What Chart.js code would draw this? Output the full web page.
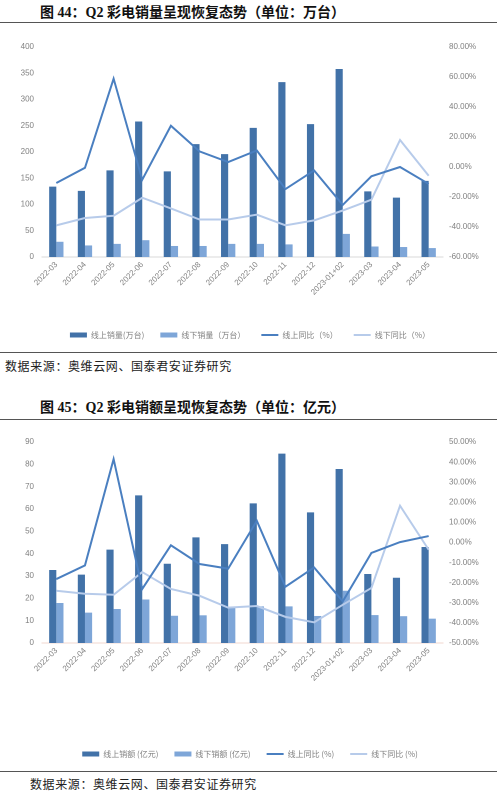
<!DOCTYPE html>
<html><head><meta charset="utf-8">
<script src="https://cdn.jsdelivr.net/npm/chart.js@4.4.0/dist/chart.umd.min.js"></script>
<style>
html,body{margin:0;padding:0;background:#fff;width:500px;height:794px;overflow:hidden;position:relative;}
.title{position:absolute;left:40px;font-family:"Liberation Serif","Noto Sans CJK SC",serif;font-weight:bold;font-size:14px;color:#111;white-space:nowrap;line-height:16px;}
.rule{position:absolute;left:0;width:497px;height:1px;background:#555;}
.src{position:absolute;font-family:"Noto Sans CJK SC",sans-serif;font-size:12px;letter-spacing:0.6px;color:#222;white-space:nowrap;line-height:14px;}
.wrap{position:absolute;left:0;width:500px;}
</style></head><body>
<div class="title" style="top:5px">图 44：Q2 彩电销量呈现恢复态势（单位：万台）</div>
<div class="rule" style="top:22px"></div>
<div class="wrap" style="top:30px;height:320px"><canvas id="c1" width="500" height="320"></canvas></div>
<div class="rule" style="top:352px"></div>
<div class="src" style="top:359px;left:5px">数据来源：奥维云网、国泰君安证券研究</div>

<div class="title" style="top:400px">图 45：Q2 彩电销额呈现恢复态势（单位：亿元）</div>
<div class="rule" style="top:419px"></div>
<div class="wrap" style="top:425px;height:344px"><canvas id="c2" width="500" height="344"></canvas></div>
<div class="rule" style="top:771px"></div>
<div class="src" style="top:777px;left:30px">数据来源：奥维云网、国泰君安证券研究</div>
<script>
const categories = ['2022-03','2022-04','2022-05','2022-06','2022-07','2022-08','2022-09','2022-10','2022-11','2022-12','2023-01+02','2023-03','2023-04','2023-05'];

// Chart 44: sales volume (万台) and YoY (%)
const volOnline  = [134,126,165,258,163,215,196,246,333,253,358,125,113,145];
const volOffline = [29,22,25,32,21,21,25,25,24,null,44,20,19,17];
const volOnlineYoY  = [-10.7,-0.5,58.9,-8.5,27.5,10.4,3.3,11.0,-14.7,-2.3,-25.3,-6.2,0.0,-11.3];
const volOfflineYoY = [-38.9,-34.0,-32.5,-20.5,-27.6,-35.0,-35.0,-31.8,-38.9,-35.6,-29.0,-21.8,18.0,-5.8];
const volLabels = ['线上销量(万台)','线下销量（万台）','线上同比（%）','线下同比（%）'];

// Chart 45: sales amount (亿元) and YoY (%)
const amtOnline  = [32.7,30.6,41.8,66.1,35.5,47.3,44.3,62.5,84.8,58.5,77.9,30.9,29.2,43.0];
const amtOffline = [17.9,13.6,15.2,19.5,12.2,12.4,15.7,16.4,16.4,12.1,23.4,12.5,12.0,10.9];
const amtOnlineYoY  = [-18.2,-11.4,41.5,-23.1,-1.4,-10.7,-13.0,10.8,-22.0,-12.4,-29.3,-5.2,0.2,3.2];
const amtOfflineYoY = [-24.0,-25.5,-26.0,-14.7,-23.1,-26.5,-32.4,-31.6,-37.0,-39.7,-31.0,-22.6,18.3,-3.6];
const amtLabels = ['线上销额 (亿元)','线下销额 (亿元)','线上同比 (%)','线下同比 (%)'];

const C_ON_BAR = '#4272a8', C_OFF_BAR = '#7ea6d8', C_ON_LINE = '#4a7fc0', C_OFF_LINE = '#b7cbea';
const TICK = {family:'Liberation Sans', size:8};

function makeChart(id, labels, on, off, onY, offY, leftMax, leftStep, rMin, rMax, rStep, padTop, xH, padBottom, baseColor){
  return new Chart(document.getElementById(id), {
    data: {
      labels: categories,
      datasets: [
        {type:'bar', label:labels[0], data:on, backgroundColor:C_ON_BAR, yAxisID:'y', order:1, pointStyle:'rect', categoryPercentage:0.5, barPercentage:1.0},
        {type:'bar', label:labels[1], data:off, backgroundColor:C_OFF_BAR, yAxisID:'y', order:1, pointStyle:'rect', categoryPercentage:0.5, barPercentage:1.0},
        {type:'line', label:labels[2], data:onY, borderColor:C_ON_LINE, backgroundColor:C_ON_LINE, borderWidth:2, pointRadius:0, tension:0, yAxisID:'y1', order:0, pointStyle:'line'},
        {type:'line', label:labels[3], data:offY, borderColor:C_OFF_LINE, backgroundColor:C_OFF_LINE, borderWidth:2, pointRadius:0, tension:0, yAxisID:'y1', order:0, pointStyle:'line'}
      ]
    },
    options: {
      responsive:false, animation:false, devicePixelRatio:2,
      layout:{padding:{top:padTop, left:0, right:0, bottom:padBottom}},
      plugins:{
        tooltip:{enabled:false},
        legend:{position:'bottom', labels:{usePointStyle:true, pointStyleWidth:17, boxHeight:5, padding:16, color:'#7f7f7f', font:{family:'Noto Sans CJK SC', size:8}, sort:(a,b)=>a.datasetIndex-b.datasetIndex}}
      },
      scales:{
        x:{grid:{display:false, drawTicks:false}, border:{display:true, color:baseColor},
           ticks:{minRotation:45, maxRotation:45, autoSkip:false, color:'#808080', font:TICK, padding:3},
           afterFit:s=>{s.height=xH;}},
        y:{position:'left', min:0, max:leftMax, grid:{display:false, drawTicks:false}, border:{display:false},
           ticks:{stepSize:leftStep, color:'#808080', font:TICK, padding:8}, afterFit:s=>{s.width=42;}},
        y1:{position:'right', min:rMin, max:rMax, grid:{display:false, drawTicks:false}, border:{display:false},
           ticks:{stepSize:rStep, color:'#808080', font:TICK, padding:6, callback:v=>v.toFixed(2)+'%'}, afterFit:s=>{s.width=57;}}
      }
    }
  });
}
makeChart('c1', volLabels, volOnline, volOffline, volOnlineYoY, volOfflineYoY, 400, 50, -60, 80, 20, 17, 58, 1, '#d9d9d9');
makeChart('c2', amtLabels, amtOnline, amtOffline, amtOnlineYoY, amtOfflineYoY, 90, 10, -50, 50, 10, 17, 91, 1, '#f0d6cf');
</script>
</body></html>
